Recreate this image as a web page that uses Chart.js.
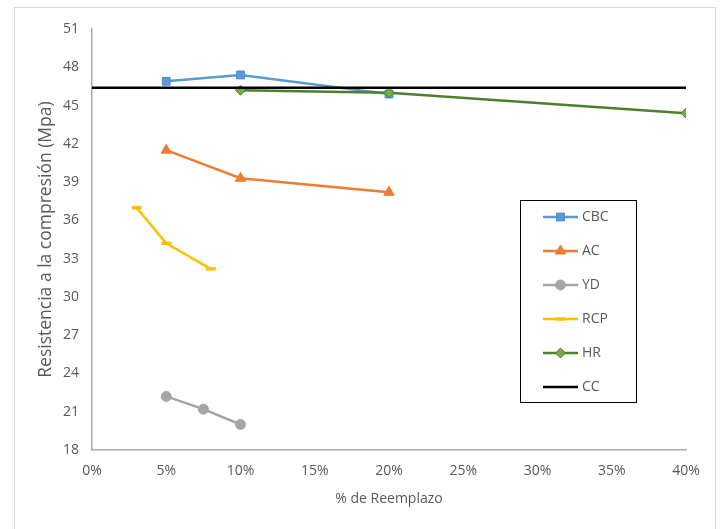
<!DOCTYPE html>
<html>
<head>
<meta charset="utf-8">
<script src="https://cdn.jsdelivr.net/npm/chart.js@4.4.0/dist/chart.umd.min.js"></script>
<style>
  html, body { margin: 0; padding: 0; background: #ffffff; }
  #wrap { position: relative; width: 722px; height: 529px; overflow: hidden; }
  canvas { display: block; }
</style>
</head>
<body>
<div id="wrap"><canvas id="c" width="722" height="529"></canvas></div>
<script>
// Compressive strength (MPa) versus replacement percentage, per material
const seriesNames = ['CBC', 'AC', 'YD', 'RCP', 'HR', 'CC'];

const cbcPct = [5, 10, 20];
const cbcVal = [46.9, 47.4, 45.9];

const acPct = [5, 10, 20];
const acVal = [41.5, 39.3, 38.2];

const ydPct = [5, 7.5, 10];
const ydVal = [22.2, 21.2, 20.0];

const rcpPct = [3, 5, 8];
const rcpVal = [37.0, 34.2, 32.2];

const hrPct = [10, 20, 40];
const hrVal = [46.2, 46.0, 44.4];

// Control concrete reference level spanning the full axis
const ccPct = [0, 40];
const ccVal = [46.4, 46.4];

const xTicks = [0, 5, 10, 15, 20, 25, 30, 35, 40];
const yTicks = [18, 21, 24, 27, 30, 33, 36, 39, 42, 45, 48, 51];

const toPoints = (xs, ys) => xs.map((x, i) => ({ x: x, y: ys[i] }));

const FONT = "'Open Sans', 'Liberation Sans', sans-serif";
const TEXT = '#595959';

Chart.defaults.font.family = FONT;
Chart.defaults.color = TEXT;

const datasets = [
  { label: seriesNames[0], data: toPoints(cbcPct, cbcVal), borderColor: '#5B9BD5', backgroundColor: '#5B9BD5',
    borderWidth: 2.5, pointStyle: 'rect', pointRadius: 5.5, pointBorderWidth: 1, pointBorderColor: '#4A8AC8', order: 6 },
  { label: seriesNames[1], data: toPoints(acPct, acVal), borderColor: '#ED7D31', backgroundColor: '#ED7D31',
    borderWidth: 2.5, pointStyle: 'triangle', pointRadius: 6, pointBorderWidth: 1, pointBorderColor: '#ED7D31', order: 5 },
  { label: seriesNames[2], data: toPoints(ydPct, ydVal), borderColor: '#A5A5A5', backgroundColor: '#A5A5A5',
    borderWidth: 2.5, pointStyle: 'circle', pointRadius: 5, pointBorderWidth: 1, pointBorderColor: '#A5A5A5', order: 4 },
  { label: seriesNames[3], data: toPoints(rcpPct, rcpVal), borderColor: '#FFC000', backgroundColor: '#FFC000',
    borderWidth: 2.5, pointStyle: 'line', pointRadius: 5, pointBorderWidth: 3.5, pointBorderColor: '#FFC000', order: 3 },
  { label: seriesNames[4], data: toPoints(hrPct, hrVal), borderColor: '#4E7F2C', backgroundColor: '#70AD47',
    borderWidth: 2.5, pointStyle: 'rectRot', pointRadius: 5, pointBorderWidth: 1, pointBorderColor: '#4E7F2C', order: 2 },
  { label: seriesNames[5], data: toPoints(ccPct, ccVal), borderColor: '#000000', backgroundColor: '#000000',
    borderWidth: 2.5, pointRadius: 0, order: 1 }
];

// Thin frame around the whole figure
const framePlugin = {
  id: 'frame',
  beforeDraw(chart) {
    const ctx = chart.ctx;
    ctx.save();
    ctx.strokeStyle = '#D9D9D9';
    ctx.lineWidth = 1;
    ctx.strokeRect(14.5, 7.5, 701, 560);
    ctx.restore();
  }
};

// Boxed legend inside the plot area, one row per series
const boxLegend = {
  id: 'boxLegend',
  afterDraw(chart) {
    const ctx = chart.ctx;
    const box = { x: 520.5, y: 200.5, w: 116, h: 202 };
    const rowTop = 217, rowGap = 34;
    const lineX0 = 543, lineX1 = 578, textX = 582;
    ctx.save();
    ctx.strokeStyle = '#000000';
    ctx.lineWidth = 1;
    ctx.strokeRect(box.x, box.y, box.w, box.h);
    chart.data.datasets.forEach((ds, i) => {
      const y = rowTop + i * rowGap;
      ctx.strokeStyle = ds.borderColor;
      ctx.lineWidth = ds.borderWidth;
      ctx.beginPath();
      ctx.moveTo(lineX0, y);
      ctx.lineTo(lineX1, y);
      ctx.stroke();
      if (ds.pointRadius > 0) {
        ctx.fillStyle = ds.backgroundColor;
        ctx.strokeStyle = ds.pointBorderColor;
        ctx.lineWidth = ds.pointBorderWidth;
        Chart.helpers.drawPoint(ctx, {
          pointStyle: ds.pointStyle, radius: ds.pointRadius,
          borderWidth: ds.pointBorderWidth, rotation: 0
        }, (lineX0 + lineX1) / 2, y);
      }
      ctx.fillStyle = TEXT;
      ctx.font = '14px ' + FONT;
      ctx.textAlign = 'left';
      ctx.textBaseline = 'middle';
      ctx.fillText(ds.label, textX, y);
    });
    ctx.restore();
  }
};

new Chart(document.getElementById('c'), {
  type: 'line',
  data: { datasets: datasets },
  plugins: [framePlugin, boxLegend],
  options: {
    responsive: false,
    devicePixelRatio: 1,
    animation: false,
    layout: { padding: { top: 29, right: 36, left: 0, bottom: 0 } },
    plugins: { legend: { display: false }, tooltip: { enabled: false } },
    elements: { line: { tension: 0 } },
    scales: {
      x: {
        type: 'linear', min: 0, max: 40,
        afterBuildTicks(s) { s.ticks = xTicks.map(v => ({ value: v })); },
        afterFit(s) { s.height = 79; },
        grid: { display: false, drawTicks: false },
        border: { display: true, color: '#ABABAB', width: 1.5 },
        ticks: { padding: 13, color: TEXT, font: { size: 14 }, maxRotation: 0, callback: v => v + '%' },
        title: { display: true, text: '% de Reemplazo', color: TEXT, font: { size: 14 }, padding: { top: 0, bottom: 22 } }
      },
      y: {
        type: 'linear', min: 18, max: 51,
        afterBuildTicks(s) { s.ticks = yTicks.map(v => ({ value: v })); },
        afterFit(s) { s.width = 92; },
        grid: { display: false, drawTicks: false },
        border: { display: true, color: '#ABABAB', width: 1.5 },
        ticks: { padding: 13, color: TEXT, font: { size: 14 } },
        title: { display: true, text: 'Resistencia a la compresión (Mpa)', color: TEXT, font: { size: 17.5 }, padding: { top: 36, bottom: 0 } }
      }
    }
  }
});
</script>
</body>
</html>
